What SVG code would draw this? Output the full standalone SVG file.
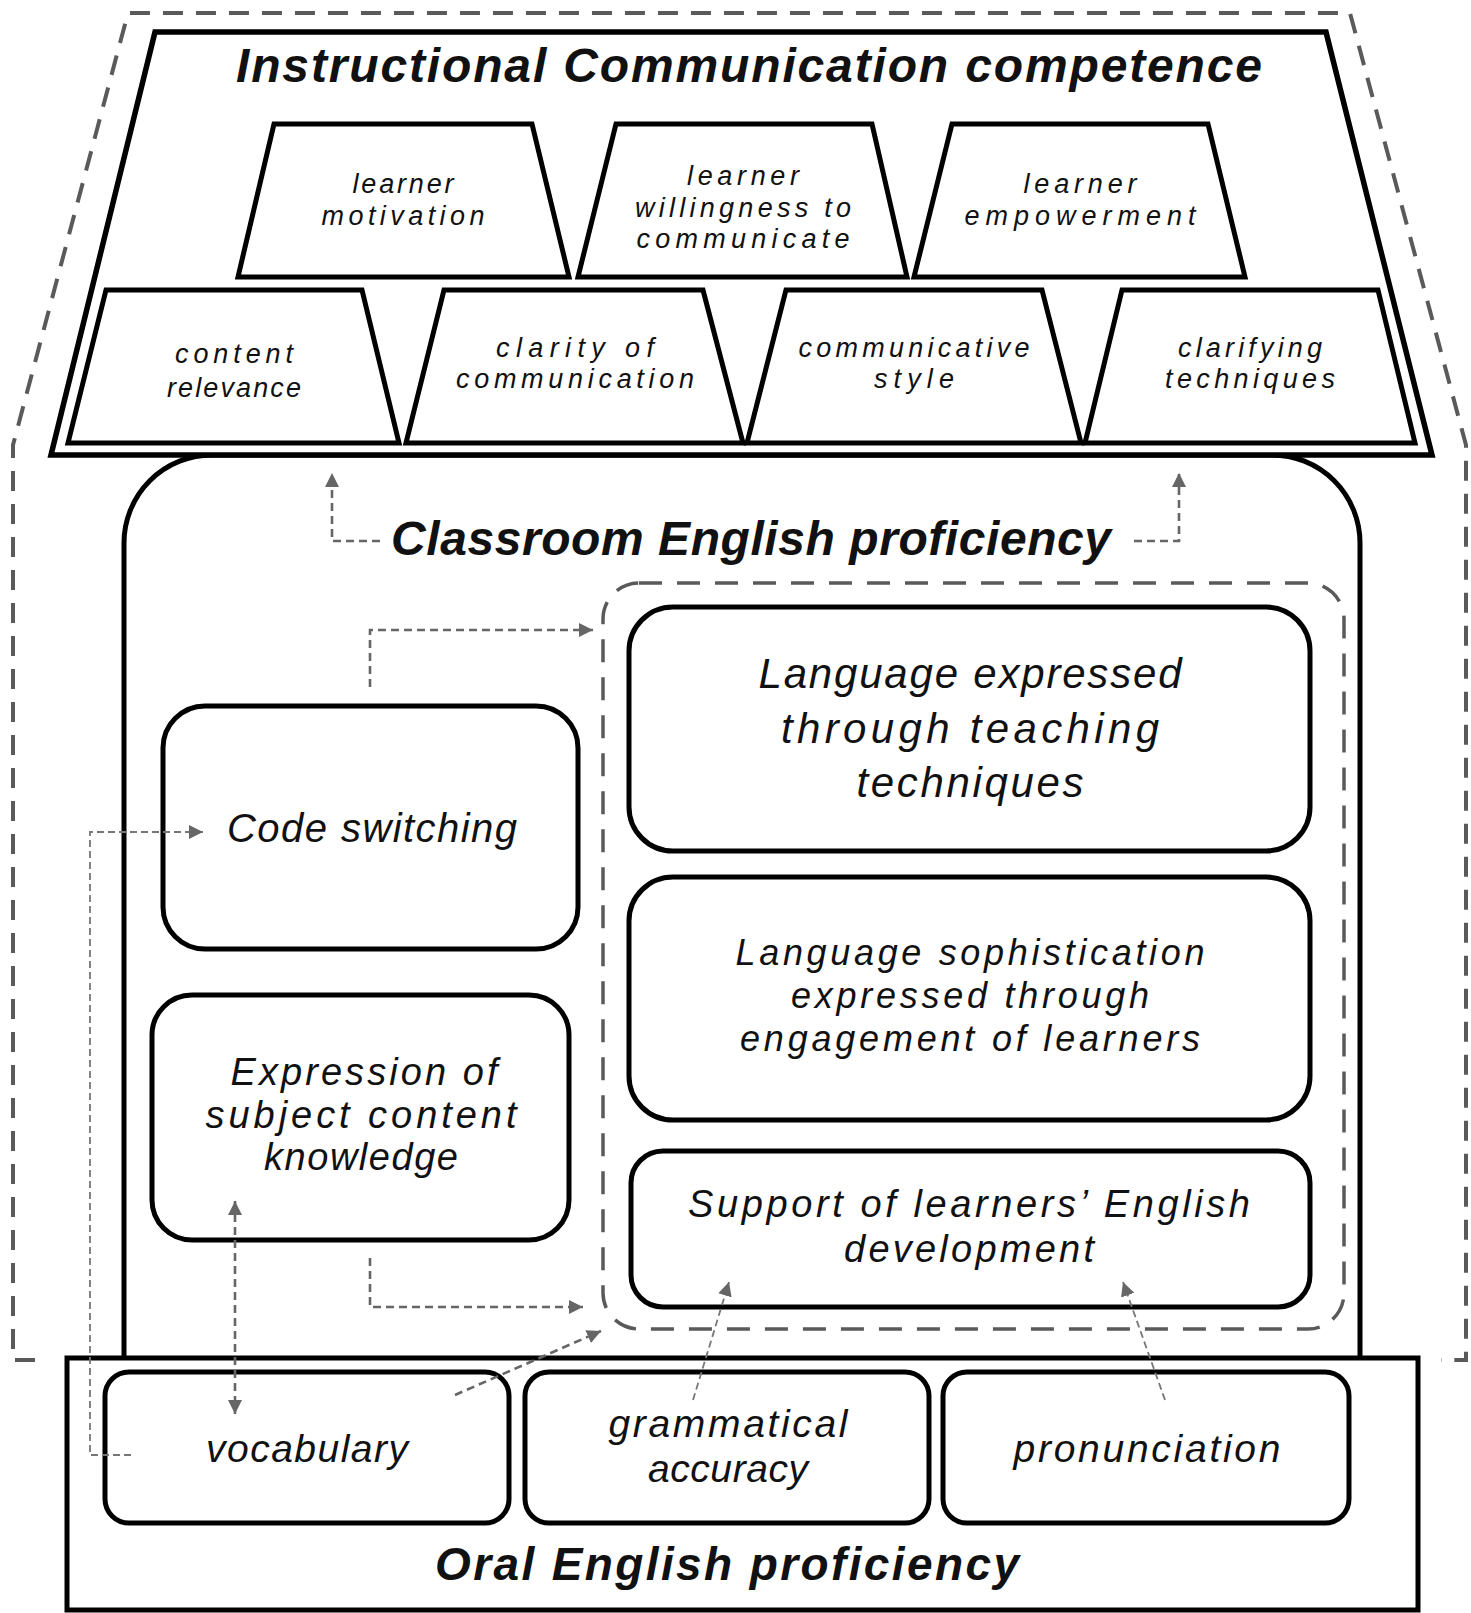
<svg xmlns="http://www.w3.org/2000/svg" width="1471" height="1613" viewBox="0 0 1471 1613">
  <style>
    .bg { fill: #ffffff; }
    .frame { fill: none; stroke: #5a5a5a; stroke-width: 4; stroke-dasharray: 20 13; }
    .group-dash { fill: none; stroke: #5a5a5a; stroke-width: 3.5; stroke-dasharray: 23 15; }
    .shape { fill: #ffffff; stroke: #000000; stroke-width: 5; stroke-linejoin: miter; }
    .box { fill: #ffffff; stroke: #000000; stroke-width: 5; }
    .conn { fill: none; stroke: #666666; stroke-width: 2.6; stroke-dasharray: 8 5; }
    .conn-thin { fill: none; stroke: #777777; stroke-width: 1.8; stroke-dasharray: 7 4; }
    text { font-family: "Liberation Sans", Arial, sans-serif; font-style: italic; fill: #111111; text-anchor: middle; }
    .title { font-size: 48px; font-weight: bold; }
    .trap { font-size: 27px; }
    .xl { font-size: 42px; }
    .lg { font-size: 40px; }
    .md { font-size: 38px; }
    .sm { font-size: 36px; }
    .oral { font-size: 39px; }
  </style>
  <defs>
    <marker id="arrow" markerUnits="userSpaceOnUse" markerWidth="14" markerHeight="14" refX="14" refY="7" orient="auto-start-reverse">
      <path d="M0 0 L14 7 L0 14 Z" fill="#666666"/>
    </marker>
  </defs>

  <rect class="bg" x="0" y="0" width="1471" height="1613"/>

  <!-- outer dashed boundary around the instructional communication area -->
  <path id="outer-frame" class="frame" d="M35 1360 H13 V445 L128 13 H1350 L1466 445 V1360 H1441"/>

  <!-- Classroom English proficiency -->
  <g id="classroom-english">
    <path class="box" d="M124 1360 V543 A88 88 0 0 1 212 455 H1272 A88 88 0 0 1 1360 543 V1360"/>
    <text class="title" x="751" y="555" textLength="720" lengthAdjust="spacing">Classroom English proficiency</text>
  </g>

  <!-- Instructional Communication competence -->
  <g id="instructional-communication">
    <polygon class="shape" style="stroke-width:5.5" points="155,32 1326,32 1432,455 51,455"/>
    <text class="title" x="749" y="82" textLength="1026" lengthAdjust="spacing">Instructional Communication competence</text>
  </g>

  <g id="learner-motivation">
    <polygon class="shape" points="274,124 532,124 569,277 238,277"/>
    <text class="trap" x="403" y="193" textLength="101" lengthAdjust="spacing">learner</text>
    <text class="trap" x="403" y="225" textLength="163" lengthAdjust="spacing">motivation</text>
  </g>
  <g id="learner-willingness">
    <polygon class="shape" points="616,124 872,124 907,277 578,277"/>
    <text class="trap" x="743" y="185" textLength="112" lengthAdjust="spacing">learner</text>
    <text class="trap" x="743" y="216.5" textLength="216" lengthAdjust="spacing">willingness to</text>
    <text class="trap" x="743" y="248" textLength="213" lengthAdjust="spacing">communicate</text>
  </g>
  <g id="learner-empowerment">
    <polygon class="shape" points="952,124 1208,124 1245,277 914,277"/>
    <text class="trap" x="1080" y="193" textLength="113" lengthAdjust="spacing">learner</text>
    <text class="trap" x="1080" y="225" textLength="231" lengthAdjust="spacing">empowerment</text>
  </g>

  <g id="content-relevance">
    <polygon class="shape" points="106,290 362,290 399,443 68,443"/>
    <text class="trap" x="234" y="363" textLength="118" lengthAdjust="spacing">content</text>
    <text class="trap" x="234" y="397" textLength="134" lengthAdjust="spacing">relevance</text>
  </g>
  <g id="clarity-of-communication">
    <polygon class="shape" points="444,290 703,290 743,443 406,443"/>
    <text class="trap" x="575" y="357" textLength="158" lengthAdjust="spacing">clarity of</text>
    <text class="trap" x="575" y="388" textLength="238" lengthAdjust="spacing">communication</text>
  </g>
  <g id="communicative-style">
    <polygon class="shape" points="786,290 1042,290 1081,443 747,443"/>
    <text class="trap" x="914" y="357" textLength="231" lengthAdjust="spacing">communicative</text>
    <text class="trap" x="914" y="388" textLength="80" lengthAdjust="spacing">style</text>
  </g>
  <g id="clarifying-techniques">
    <polygon class="shape" points="1122,290 1378,290 1415,443 1085,443"/>
    <text class="trap" x="1250" y="357" textLength="144" lengthAdjust="spacing">clarifying</text>
    <text class="trap" x="1250" y="388" textLength="170" lengthAdjust="spacing">techniques</text>
  </g>

  <!-- dashed grouping of the three language boxes -->
  <rect id="language-group" class="group-dash" x="603" y="583" width="741" height="746" rx="36" ry="36"/>

  <g id="language-teaching-techniques">
    <rect class="box" x="629" y="607" width="681" height="244" rx="44" ry="44"/>
    <text class="xl" x="970" y="688" textLength="423" lengthAdjust="spacing">Language expressed</text>
    <text class="xl" x="970" y="743" textLength="378" lengthAdjust="spacing">through teaching</text>
    <text class="xl" x="970" y="797" textLength="227" lengthAdjust="spacing">techniques</text>
  </g>
  <g id="language-sophistication">
    <rect class="box" x="629" y="877" width="681" height="243" rx="44" ry="44"/>
    <text class="sm" x="970" y="965" textLength="469" lengthAdjust="spacing">Language sophistication</text>
    <text class="sm" x="970" y="1008" textLength="358" lengthAdjust="spacing">expressed through</text>
    <text class="sm" x="970" y="1051" textLength="460" lengthAdjust="spacing">engagement of learners</text>
  </g>
  <g id="support-english-development">
    <rect class="box" x="631" y="1151" width="679" height="156" rx="32" ry="32"/>
    <text class="md" x="969" y="1217" textLength="562" lengthAdjust="spacing">Support of learners’ English</text>
    <text class="md" x="969" y="1262" textLength="250" lengthAdjust="spacing">development</text>
  </g>

  <g id="code-switching">
    <rect class="box" x="163" y="706" width="415" height="243" rx="42" ry="42"/>
    <text class="lg" x="372" y="842" textLength="290" lengthAdjust="spacing">Code switching</text>
  </g>
  <g id="subject-content-knowledge">
    <rect class="box" x="152" y="995" width="417" height="245" rx="40" ry="40"/>
    <text class="md" x="364" y="1085" textLength="267" lengthAdjust="spacing">Expression of</text>
    <text class="md" x="361" y="1128" textLength="311" lengthAdjust="spacing">subject content</text>
    <text class="md" x="361" y="1170" textLength="194" lengthAdjust="spacing">knowledge</text>
  </g>

  <!-- Oral English proficiency -->
  <g id="oral-english">
    <rect class="box" x="67" y="1358" width="1351" height="252"/>
    <text class="title" style="font-size:46px" x="727" y="1580" textLength="584" lengthAdjust="spacing">Oral English proficiency</text>
  </g>
  <g id="vocabulary">
    <rect class="box" x="105" y="1372" width="404" height="151" rx="24" ry="24"/>
    <text class="oral" x="307" y="1462" textLength="202" lengthAdjust="spacing">vocabulary</text>
  </g>
  <g id="grammatical-accuracy">
    <rect class="box" x="525" y="1372" width="404" height="151" rx="24" ry="24"/>
    <text class="oral" x="728" y="1437" textLength="239" lengthAdjust="spacing">grammatical</text>
    <text class="oral" x="728" y="1482" textLength="160" lengthAdjust="spacing">accuracy</text>
  </g>
  <g id="pronunciation">
    <rect class="box" x="943" y="1372" width="406" height="151" rx="24" ry="24"/>
    <text class="oral" x="1147" y="1462" textLength="267" lengthAdjust="spacing">pronunciation</text>
  </g>

  <!-- connectors -->
  <g id="connectors">
    <path class="conn" d="M380 541 H332 V473" marker-end="url(#arrow)"/>
    <path class="conn" d="M1134 541 H1179 V473" marker-end="url(#arrow)"/>
    <path class="conn" d="M370 687 V630 H593" marker-end="url(#arrow)"/>
    <path class="conn" d="M370 1258 V1307 H583" marker-end="url(#arrow)"/>
    <path class="conn-thin" d="M131 1455 H90 V832 H203" marker-end="url(#arrow)"/>
    <path class="conn" d="M235 1201 V1414" marker-start="url(#arrow)" marker-end="url(#arrow)"/>
    <path class="conn" d="M455 1395 L601 1331" marker-end="url(#arrow)"/>
    <path class="conn-thin" d="M693 1400 L729 1282" marker-end="url(#arrow)"/>
    <path class="conn-thin" d="M1165 1400 L1123 1282" marker-end="url(#arrow)"/>
  </g>
</svg>
